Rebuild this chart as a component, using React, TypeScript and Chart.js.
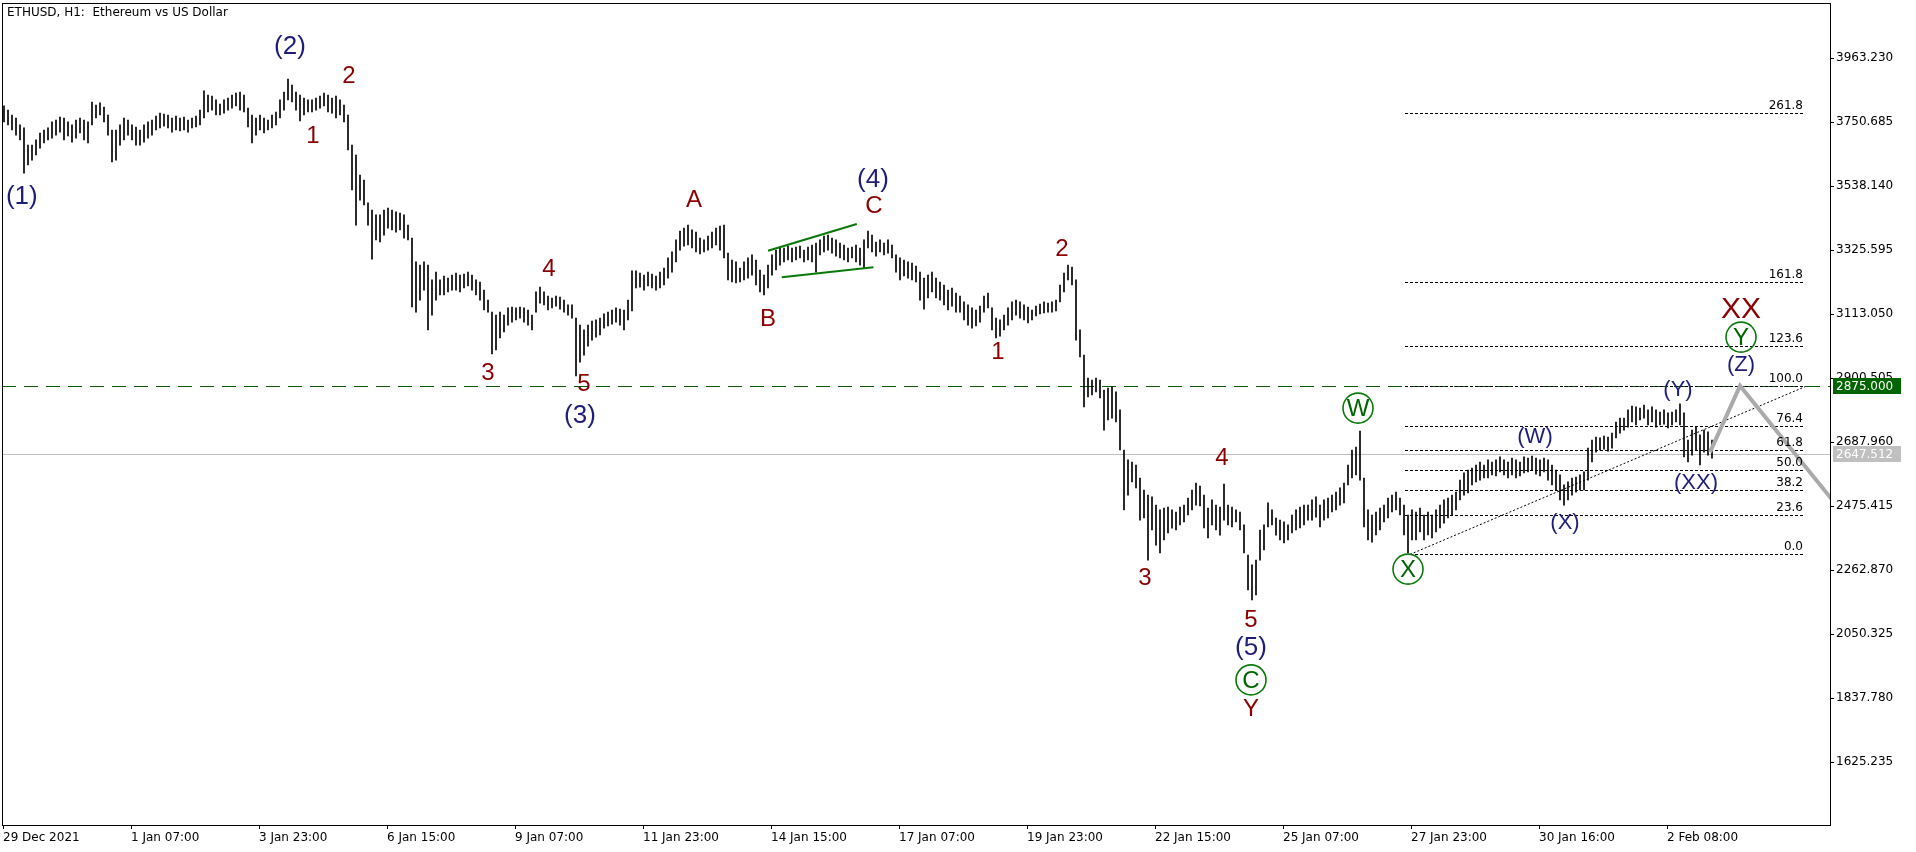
import React, { useEffect, useRef } from "react";
import { Chart, registerables } from "chart.js";

Chart.register(...registerables);

// ---- Data (ETHUSD, 2-hour high/low pairs) ----
const chartTitle = "ETHUSD, H1:  Ethereum vs US Dollar";
const BAR_HOURS = 2;

const highs = [
  3805, 3791, 3775, 3765, 3742, 3732, 3675, 3675, 3692, 3715,
  3725, 3732, 3752, 3758, 3768, 3765, 3752, 3742, 3758, 3765,
  3758, 3752, 3818, 3808, 3815, 3801, 3775, 3725, 3725, 3742,
  3765, 3758, 3742, 3735, 3725, 3742, 3752, 3758, 3771, 3781,
  3778, 3775, 3765, 3771, 3765, 3768, 3758, 3765, 3771, 3791,
  3855, 3841, 3838, 3825, 3811, 3825, 3831, 3841, 3848, 3851,
  3841, 3798, 3775, 3765, 3775, 3765, 3758, 3775, 3785, 3825,
  3851, 3894, 3874, 3851, 3841, 3831, 3825, 3825, 3831, 3838,
  3848, 3841, 3831, 3838, 3825, 3808, 3775, 3675, 3642, 3575,
  3559, 3483, 3459, 3443, 3443, 3459, 3466, 3459, 3453, 3449,
  3443, 3409, 3366, 3287, 3276, 3287, 3276, 3227, 3253, 3227,
  3240, 3233, 3243, 3250, 3243, 3246, 3253, 3243, 3227, 3220,
  3193, 3160, 3120, 3110, 3120, 3110, 3134, 3137, 3134, 3137,
  3134, 3127, 3110, 3187, 3203, 3187, 3173, 3167, 3173, 3170,
  3160, 3144, 3144, 3100, 3077, 3061, 3077, 3090, 3094, 3100,
  3114, 3120, 3127, 3134, 3130, 3127, 3160, 3257, 3257, 3250,
  3243, 3253, 3246, 3240, 3253, 3266, 3300, 3320, 3360, 3389,
  3399, 3409, 3393, 3386, 3366, 3360, 3373, 3386, 3399, 3406,
  3409, 3316, 3293, 3287, 3266, 3287, 3300, 3310, 3293, 3260,
  3243, 3276, 3310, 3326, 3336, 3333, 3339, 3333, 3336, 3339,
  3326, 3336, 3343, 3349, 3360, 3373, 3376, 3366, 3360, 3349,
  3343, 3333, 3336, 3343, 3333, 3360, 3389, 3376, 3353, 3360,
  3349, 3360, 3343, 3310, 3300, 3293, 3287, 3283, 3273, 3253,
  3233, 3243, 3253, 3233, 3220, 3210, 3193, 3200, 3183, 3173,
  3154, 3144, 3134, 3127, 3140, 3173, 3183, 3134, 3100, 3094,
  3110, 3134, 3154, 3160, 3154, 3144, 3137, 3127, 3140, 3147,
  3154, 3150, 3154, 3160, 3210, 3250, 3276, 3270, 3227, 3061,
  2977, 2901, 2894, 2901, 2894, 2861, 2868, 2871, 2855, 2795,
  2662, 2629, 2622, 2612, 2569, 2529, 2512, 2506, 2479, 2463,
  2469, 2472, 2463, 2456, 2472, 2479, 2502, 2529, 2552, 2542,
  2512, 2469, 2496, 2479, 2472, 2549, 2479, 2472, 2463, 2456,
  2413, 2313, 2280, 2296, 2396, 2413, 2486, 2463, 2436, 2429,
  2423, 2413, 2446, 2463, 2472, 2479, 2479, 2496, 2506, 2479,
  2496, 2502, 2512, 2522, 2536, 2552, 2612, 2662, 2672, 2725,
  2569, 2463, 2446, 2456, 2469, 2479, 2502, 2512, 2522, 2502,
  2479, 2446, 2463, 2456, 2469, 2446, 2456, 2446, 2463, 2479,
  2496, 2502, 2512, 2522, 2562, 2586, 2595, 2602, 2612, 2622,
  2612, 2629, 2622, 2629, 2639, 2629, 2622, 2635, 2629, 2622,
  2639, 2635, 2642, 2635, 2629, 2635, 2629, 2612, 2595, 2579,
  2546, 2556, 2569, 2572, 2579, 2589, 2668, 2695, 2705, 2702,
  2708, 2705, 2718, 2755, 2768, 2768, 2795, 2808, 2805, 2801,
  2811, 2795, 2805, 2795, 2788, 2795, 2785, 2788, 2795, 2815,
  2785, 2695, 2728, 2738, 2712, 2728, 2722, 2695,
];

const lows = [
  3752, 3742, 3725, 3708, 3692, 3582, 3609, 3625, 3642, 3665,
  3682, 3692, 3698, 3708, 3718, 3692, 3705, 3685, 3698, 3715,
  3692, 3682, 3742, 3765, 3775, 3752, 3708, 3619, 3625, 3675,
  3692, 3708, 3692, 3675, 3675, 3685, 3698, 3708, 3725, 3732,
  3738, 3732, 3718, 3725, 3722, 3725, 3718, 3732, 3735, 3742,
  3765, 3785, 3791, 3775, 3775, 3781, 3791, 3798, 3805, 3791,
  3785, 3735, 3682, 3708, 3725, 3715, 3725, 3732, 3742, 3765,
  3791, 3825, 3818, 3791, 3755, 3775, 3785, 3785, 3791, 3798,
  3805, 3785, 3781, 3765, 3775, 3752, 3659, 3526, 3409, 3492,
  3476, 3409, 3296, 3360, 3353, 3376, 3399, 3393, 3386, 3393,
  3366, 3360, 3137, 3120, 3160, 3193, 3061, 3110, 3160, 3177,
  3177, 3187, 3193, 3193, 3187, 3200, 3207, 3193, 3177, 3160,
  3127, 3120, 2981, 2994, 3034, 3054, 3077, 3087, 3094, 3100,
  3087, 3077, 3061, 3120, 3150, 3144, 3127, 3134, 3140, 3130,
  3120, 3110, 3100, 2908, 2954, 2977, 3007, 3027, 3037, 3044,
  3067, 3074, 3080, 3087, 3077, 3061, 3094, 3124, 3200, 3203,
  3193, 3207, 3200, 3193, 3200, 3210, 3233, 3253, 3287, 3326,
  3339, 3343, 3333, 3320, 3313, 3320, 3326, 3333, 3343, 3326,
  3300, 3227, 3220, 3217, 3220, 3227, 3233, 3243, 3210, 3187,
  3177, 3200, 3243, 3260, 3276, 3287, 3293, 3287, 3293, 3300,
  3287, 3293, 3287, 3253, 3310, 3320, 3326, 3316, 3306, 3300,
  3293, 3287, 3300, 3287, 3276, 3266, 3333, 3320, 3306, 3320,
  3310, 3316, 3300, 3253, 3227, 3240, 3233, 3227, 3220, 3160,
  3130, 3167, 3187, 3167, 3160, 3144, 3127, 3140, 3120, 3120,
  3094, 3077, 3067, 3074, 3087, 3120, 3134, 3061, 3034, 3040,
  3061, 3077, 3094, 3110, 3100, 3094, 3084, 3094, 3107, 3114,
  3117, 3120, 3120, 3124, 3154, 3187, 3227, 3210, 3027, 2971,
  2805, 2838, 2845, 2855, 2835, 2728, 2762, 2768, 2755, 2662,
  2463, 2512, 2556, 2536, 2429, 2436, 2296, 2396, 2346, 2320,
  2363, 2386, 2402, 2396, 2413, 2423, 2446, 2463, 2479, 2476,
  2403, 2370, 2413, 2396, 2379, 2429, 2413, 2406, 2423, 2396,
  2320, 2197, 2164, 2180, 2296, 2330, 2406, 2413, 2379, 2363,
  2353, 2363, 2386, 2396, 2403, 2413, 2429, 2429, 2439, 2406,
  2429, 2436, 2456, 2463, 2479, 2486, 2546, 2569, 2579, 2562,
  2406, 2363, 2356, 2380, 2396, 2423, 2436, 2456, 2463, 2446,
  2380, 2320, 2363, 2363, 2390, 2363, 2380, 2370, 2390, 2403,
  2419, 2436, 2446, 2463, 2496, 2512, 2519, 2546, 2556, 2562,
  2569, 2569, 2579, 2576, 2589, 2579, 2569, 2579, 2569, 2576,
  2586, 2589, 2595, 2582, 2576, 2589, 2562, 2546, 2529, 2496,
  2479, 2496, 2512, 2522, 2529, 2529, 2562, 2622, 2655, 2662,
  2665, 2658, 2668, 2702, 2718, 2728, 2738, 2755, 2745, 2762,
  2768, 2745, 2755, 2738, 2745, 2748, 2735, 2745, 2755, 2745,
  2639, 2622, 2645, 2662, 2612, 2655, 2645, 2635,
];

// time axis (hours from first bar)
const xTickHours = [0, 64, 128, 192, 256, 320, 384, 448, 512, 576, 640, 704, 768, 832];
const xTickLabels = [
  "29 Dec 2021", "1 Jan 07:00", "3 Jan 23:00", "6 Jan 15:00", "9 Jan 07:00",
  "11 Jan 23:00", "14 Jan 15:00", "17 Jan 07:00", "19 Jan 23:00", "22 Jan 15:00",
  "25 Jan 07:00", "27 Jan 23:00", "30 Jan 16:00", "2 Feb 08:00",
];
const xRange = [-0.5, 913.5];

// price axis
const yTicks = [3963.23, 3750.685, 3538.14, 3325.595, 3113.05, 2900.505, 2687.96, 2475.415, 2262.87, 2050.325, 1837.78, 1625.235];
const yRange = [1416, 4147];

// horizontal levels
const currentPrice = 2647.512;
const targetLevel = 2875.0;

// fibonacci retracement / expansion
const fibLevels = [0, 23.6, 38.2, 50, 61.8, 76.4, 100, 123.6, 161.8, 261.8];
const fibAnchorPrices = [2315, 2875];
const fibAnchorHours = [703.5, 902];
const fibSpanHours = [701, 900];

// drawn lines
const wedgeUpperHours = [382.5, 426.9];
const wedgeUpperPrices = [3324, 3413];
const wedgeLowerHours = [389.4, 435.2];
const wedgeLowerPrices = [3236, 3269];
const projectionHours = [853.5, 868.5, 930];
const projectionPrices = [2655, 2875, 2370];

// Elliott wave labels
const waveText = ["(1)", "(2)", "1", "2", "3", "4", "5", "(3)", "A", "B", "C", "(4)", "1", "2", "3", "4", "5", "(5)", "C", "Y", "W", "X", "(W)", "(X)", "(Y)", "(XX)", "(Z)", "Y", "XX"];
const waveHour = [9.4, 143.5, 155, 173, 242.5, 273, 290.5, 288.5, 345.5, 382.5, 435.5, 435, 497.5, 529.5, 571, 609.5, 624, 624, 624, 624, 677.5, 702.5, 766, 781, 837.5, 846.5, 869, 869, 869];
const wavePrice = [3503, 4002, 3705, 3904, 2918, 3263, 2881, 2775, 3492, 3097, 3472, 3559, 2987, 3330, 2237, 2635, 2097, 2004, 1898, 1801, 2801, 2266, 2705, 2419, 2861, 2552, 2944, 3037, 3127];
const waveStyle = ["P", "P", "r", "r", "r", "r", "r", "P", "r", "r", "r", "P", "r", "r", "r", "r", "r", "P", "c", "r", "c", "c", "p", "p", "p", "p", "p", "c", "R"];

// ---- styling ----
const BLUE = "#1e1e78";
const RED = "#8b0000";
const GREEN = "#006400";
const UI_FONT = '12px "DejaVu Sans"';
const LABEL_FAMILY = '"Liberation Sans", Arial, sans-serif';

const fibPrice = (lvl: number) => fibAnchorPrices[0] + ((fibAnchorPrices[1] - fibAnchorPrices[0]) * lvl) / 100;

const overlayPlugin = {
  id: "overlay",
  beforeDatasetsDraw(chart: any) {
    const { ctx, chartArea, scales } = chart;
    const x = scales.x, y = scales.y;
    const hline = (x0: number, x1: number, v: number, color: string, dash: number[]) => {
      const py = Math.round(y.getPixelForValue(v)) + 0.5;
      ctx.save();
      ctx.beginPath();
      ctx.rect(chartArea.left, chartArea.top, chartArea.right - chartArea.left, chartArea.bottom - chartArea.top);
      ctx.clip();
      ctx.strokeStyle = color;
      ctx.lineWidth = 1;
      ctx.setLineDash(dash);
      ctx.beginPath();
      ctx.moveTo(x0, py);
      ctx.lineTo(x1, py);
      ctx.stroke();
      ctx.restore();
    };
    hline(chartArea.left, chartArea.right, currentPrice, "#c0c0c0", []);
    hline(chartArea.left, chartArea.right, targetLevel, "#0b5a0b", [14, 8]);
    const fx0 = x.getPixelForValue(fibSpanHours[0]);
    const fx1 = x.getPixelForValue(fibSpanHours[1]);
    fibLevels.forEach((l) => hline(fx0, fx1, fibPrice(l), "#000", [3, 2]));
  },
  afterDatasetsDraw(chart: any) {
    const { ctx, chartArea, scales } = chart;
    const x = scales.x, y = scales.y;
    ctx.save();
    // frame
    ctx.strokeStyle = "#000";
    ctx.lineWidth = 1;
    ctx.strokeRect(chartArea.left + 0.5, chartArea.top + 0.5, chartArea.right - chartArea.left, chartArea.bottom - chartArea.top);
    // title
    ctx.fillStyle = "#000";
    ctx.font = UI_FONT;
    ctx.textAlign = "left";
    ctx.textBaseline = "middle";
    ctx.fillText(chartTitle, chartArea.left + 5, chartArea.top + 10);
    // fib labels
    ctx.textAlign = "right";
    ctx.textBaseline = "bottom";
    const fx1 = x.getPixelForValue(fibSpanHours[1]);
    fibLevels.forEach((l) => {
      const py = Math.round(y.getPixelForValue(fibPrice(l)));
      ctx.fillText(l.toFixed(1), fx1, py - 1);
    });
    // wave labels
    ctx.textAlign = "center";
    ctx.textBaseline = "middle";
    waveText.forEach((t, i) => {
      const px = x.getPixelForValue(waveHour[i]);
      const py = y.getPixelForValue(wavePrice[i]);
      const s = waveStyle[i];
      if (s === "c") {
        ctx.beginPath();
        ctx.arc(px, py, 15, 0, Math.PI * 2);
        ctx.strokeStyle = "#0a7a0a";
        ctx.lineWidth = 1.6;
        ctx.stroke();
        ctx.fillStyle = GREEN;
        ctx.font = `24px ${LABEL_FAMILY}`;
        ctx.fillText(t, px, py + 1);
      } else {
        const size = s === "P" ? 26 : s === "p" ? 22 : s === "R" ? 30 : 24;
        ctx.fillStyle = s === "P" || s === "p" ? BLUE : RED;
        ctx.font = `${size}px ${LABEL_FAMILY}`;
        ctx.fillText(t, px, py);
      }
    });
    ctx.restore();
  },
  afterDraw(chart: any) {
    const { ctx, chartArea, scales } = chart;
    const y = scales.y;
    const box = (v: number, bg: string) => {
      const py = Math.round(y.getPixelForValue(v));
      ctx.save();
      ctx.fillStyle = bg;
      ctx.fillRect(chartArea.right + 3, py - 8, 68, 16);
      ctx.fillStyle = "#fff";
      ctx.font = UI_FONT;
      ctx.textAlign = "left";
      ctx.textBaseline = "middle";
      ctx.fillText(v.toFixed(3), chartArea.right + 6, py + 0.5);
      ctx.restore();
    };
    box(targetLevel, GREEN);
    box(currentPrice, "#c0c0c0");
  },
};

export default function App() {
  const ref = useRef<HTMLCanvasElement | null>(null);

  useEffect(() => {
    const canvas = ref.current;
    if (!canvas) return;

    const barData = highs.map((h, k) => ({ x: k * BAR_HOURS + (BAR_HOURS - 1) / 2, y: [lows[k], h] }));
    const pts = (hs: number[], ps: number[]) => hs.map((h, i) => ({ x: h, y: ps[i] }));

    const lineDs = (data: any[], color: string, width: number, dash: number[], order: number) => ({
      type: "line" as const,
      data,
      borderColor: color,
      borderWidth: width,
      borderDash: dash,
      pointRadius: 0,
      fill: false,
      tension: 0,
      clip: 0,
      order,
    });

    const chart = new Chart(canvas, {
      type: "bar",
      data: {
        datasets: [
          {
            type: "bar",
            data: barData as any,
            backgroundColor: "#000",
            borderWidth: 0,
            barThickness: 1,
            order: 2,
          } as any,
          lineDs(pts(fibAnchorHours, fibAnchorPrices), "#000", 1, [2, 2], 1),
          lineDs(pts(wedgeUpperHours, wedgeUpperPrices), "#087808", 2, [], 1),
          lineDs(pts(wedgeLowerHours, wedgeLowerPrices), "#087808", 2, [], 1),
          lineDs(pts(projectionHours, projectionPrices), "#aaaaaa", 4, [], 0),
        ],
      },
      options: {
        animation: false,
        responsive: false,
        devicePixelRatio: 1,
        events: [],
        layout: { padding: { left: 2, top: 3, right: 0, bottom: 0 } },
        plugins: { legend: { display: false }, tooltip: { enabled: false }, title: { display: false } },
        scales: {
          x: {
            type: "linear",
            min: xRange[0],
            max: xRange[1],
            offset: false,
            grid: { display: true, drawOnChartArea: false, drawTicks: true, tickLength: 4, color: "#000", offset: false },
            border: { display: true, color: "#000", width: 1 },
            ticks: {
              autoSkip: false,
              maxRotation: 0,
              minRotation: 0,
              align: "start",
              padding: 2,
              color: "#000",
              font: { family: "DejaVu Sans", size: 12 },
              callback: (_v: any, i: number) => xTickLabels[i],
            },
            afterBuildTicks: (axis: any) => {
              axis.ticks = xTickHours.map((v) => ({ value: v }));
            },
            afterFit: (axis: any) => {
              axis.height = 27;
              axis.paddingLeft = 0;
              axis.paddingRight = 0;
            },
          } as any,
          y: {
            type: "linear",
            position: "right",
            min: yRange[0],
            max: yRange[1],
            beginAtZero: false,
            grid: { display: true, drawOnChartArea: false, drawTicks: true, tickLength: 4, color: "#000" },
            border: { display: true, color: "#000", width: 1 },
            ticks: {
              padding: 2,
              color: "#000",
              font: { family: "DejaVu Sans", size: 12 },
              callback: (v: any) => Number(v).toFixed(3),
            },
            afterBuildTicks: (axis: any) => {
              axis.ticks = yTicks.map((v) => ({ value: v }));
            },
            afterFit: (axis: any) => {
              axis.width = 86;
              axis.paddingTop = 0;
              axis.paddingBottom = 0;
            },
          } as any,
        },
      },
      plugins: [overlayPlugin],
    });

    return () => chart.destroy();
  }, []);

  return (
    <div style={{ position: "fixed", left: 0, top: 0, width: 1916, height: 852, background: "#fff" }}>
      <canvas ref={ref} width={1916} height={852} style={{ display: "block", width: 1916, height: 852 }} />
    </div>
  );
}
